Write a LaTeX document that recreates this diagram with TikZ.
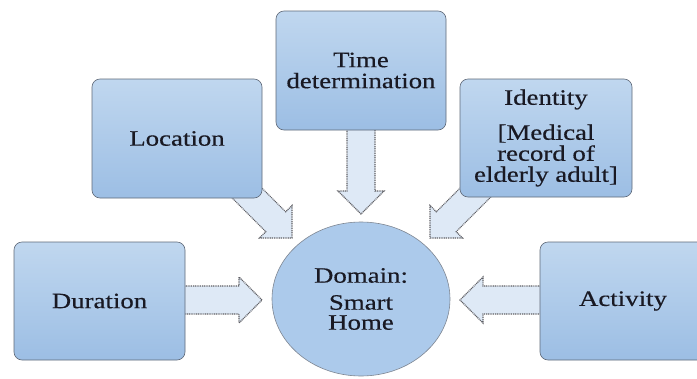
\documentclass[tikz,border=0pt]{standalone}
\usepackage{fontspec}
\setmainfont{Liberation Serif}[FakeStretch=1.22,FakeBold=0.4]
\usetikzlibrary{calc,shapes.geometric}
\definecolor{boxtop}{RGB}{192,215,239}
\definecolor{boxbot}{RGB}{156,190,228}
\definecolor{boxline}{RGB}{95,105,120}
\definecolor{circfill}{RGB}{172,202,235}
\definecolor{arrfill}{RGB}{222,233,246}
\definecolor{arrline}{RGB}{95,95,100}
\definecolor{txt}{RGB}{25,25,35}
\tikzset{
  infobox/.style={rectangle, rounded corners=8pt, draw=boxline, line width=0.6pt,
    top color=boxtop, bottom color=boxbot, text=txt, align=center,
    font=\fontsize{22}{21}\selectfont, inner sep=0pt},
  domainnode/.style={ellipse, draw=boxline!80, line width=0.6pt, fill=circfill,
    text=txt, align=center, font=\fontsize{22}{20}\selectfont, inner sep=0pt},
  fatarrow/.style={fill=arrfill, draw=arrline, dash pattern=on 1pt off 0.8pt, line width=1.1pt},
}
% block arrow from #1 (start) to #2 (tip)
\newcommand\blockarrow[2]{%
  \path ($(#2)!23pt!(#1)$) coordinate (ab);
  \path[fatarrow]
    ($(#1)!14pt!90:(#2)$) -- ($(ab)!14pt!90:(#2)$) -- ($(ab)!23pt!90:(#2)$)
    -- (#2) -- ($(ab)!23pt!-90:(#2)$) -- ($(ab)!14pt!-90:(#2)$)
    -- ($(#1)!14pt!-90:(#2)$) -- cycle;
}
\begin{document}
\begin{tikzpicture}[x=1pt,y=-1pt]
\useasboundingbox[fill=white] (0,0) rectangle (697,378);
% arrow end points
\coordinate (tS) at (361,128);  \coordinate (tT) at (361,214);
\coordinate (lS) at (232,178);  \coordinate (lT) at (292,238);
\coordinate (iS) at (490,178);  \coordinate (iT) at (430,238);
\coordinate (dS) at (184,300);  \coordinate (dT) at (262,300);
\coordinate (aS) at (541,300);  \coordinate (aT) at (460,300);
\blockarrow{tS}{tT}
\blockarrow{lS}{lT}
\blockarrow{iS}{iT}
\blockarrow{dS}{dT}
\blockarrow{aS}{aT}
% boxes
\node[infobox, minimum width=170pt, minimum height=119pt] (time) at (361,70.5)
  {Time\\determination};
\node[infobox, minimum width=170pt, minimum height=119pt] (loc) at (177,138.5)
  {Location};
\node[infobox, minimum width=172pt, minimum height=118pt] (ident) at (546,138)
  {Identity\\[14pt]{[Medical}\\record of\\elderly adult]};
\node[infobox, minimum width=171pt, minimum height=118pt] (dur) at (99.5,301)
  {Duration};
\node[infobox, minimum width=166pt, minimum height=118pt] (act) at (623,301)
  {Activity};
\node[domainnode, minimum width=178pt, minimum height=154pt] (dom) at (361,299)
  {Domain:\\[7pt]Smart\\Home};
\end{tikzpicture}
\end{document}
